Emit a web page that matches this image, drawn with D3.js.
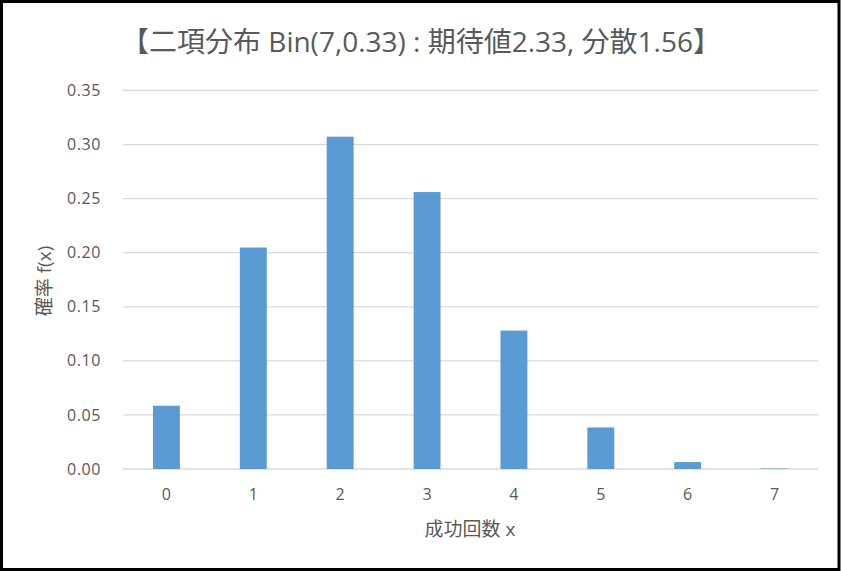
<!DOCTYPE html>
<html>
<head>
<meta charset="utf-8">
<script src="https://cdn.jsdelivr.net/npm/d3@7"></script>
<style>
  body { margin: 0; background: #fff; }
  text { font-family: "Open Sans", "Noto Sans CJK JP", sans-serif; fill: #595959; }
</style>
</head>
<body>
<div id="chart"></div>
<script>
// P(X = x) for each number of successes
const categories = ["0", "1", "2", "3", "4", "5", "6", "7"];
const probs = [0.0585, 0.2048, 0.3073, 0.2561, 0.128, 0.0384, 0.0064, 0.0005];
const yTicks = [0, 0.05, 0.1, 0.15, 0.2, 0.25, 0.3, 0.35];

const titleText = "【二項分布 Bin(7,0.33) : 期待値2.33, 分散1.56】";
const xLabel = "成功回数 x";
const yLabel = "確率 f(x)";

const width = 841;
const height = 572;
const plot = { left: 123, right: 818, top: 90.5, bottom: 469 };

const svg = d3
  .select("#chart")
  .append("svg")
  .attr("width", width)
  .attr("height", height);

svg
  .append("rect")
  .attr("x", 1.5)
  .attr("y", 1.5)
  .attr("width", width - 3.5)
  .attr("height", height - 4)
  .attr("fill", "#fff")
  .attr("stroke", "#000")
  .attr("stroke-width", 3);

const x = d3.scaleBand().domain(categories).range([plot.left, plot.right]);
const y = d3.scaleLinear().domain([0, 0.35]).range([plot.bottom, plot.top]);

// gridlines
svg
  .append("g")
  .selectAll("line")
  .data(yTicks)
  .join("line")
  .attr("x1", plot.left)
  .attr("x2", plot.right)
  .attr("y1", (d) => y(d))
  .attr("y2", (d) => y(d))
  .attr("stroke", "#d9d9d9")
  .attr("stroke-width", 1.3);

// y tick labels
svg
  .append("g")
  .selectAll("text")
  .data(yTicks)
  .join("text")
  .attr("x", 101)
  .attr("y", (d) => y(d))
  .attr("dy", "0.35em")
  .attr("text-anchor", "end")
  .style("font-size", "16px")
  .style("letter-spacing", "0.6px")
  .text((d) => d3.format(".2f")(d));

// bars
const barW = x.bandwidth() * 0.31;
svg
  .append("g")
  .selectAll("rect")
  .data(probs)
  .join("rect")
  .attr("x", (d, i) => x(categories[i]) + (x.bandwidth() - barW) / 2)
  .attr("y", (d) => y(d))
  .attr("width", barW)
  .attr("height", (d) => y(0) - y(d))
  .attr("fill", "#5b9bd5");

// x tick labels
svg
  .append("g")
  .selectAll("text")
  .data(categories)
  .join("text")
  .attr("x", (d) => x(d) + x.bandwidth() / 2)
  .attr("y", 494)
  .attr("dy", "0.35em")
  .attr("text-anchor", "middle")
  .style("font-size", "16px")
  .text((d) => d);

svg
  .append("text")
  .attr("x", 421)
  .attr("y", 42)
  .attr("dy", "0.35em")
  .attr("text-anchor", "middle")
  .style("font-size", "28px")
  .text(titleText);

svg
  .append("text")
  .attr("x", 470)
  .attr("y", 529)
  .attr("dy", "0.35em")
  .attr("text-anchor", "middle")
  .style("font-size", "19px")
  .text(xLabel);

svg
  .append("text")
  .attr("transform", "translate(44,281) rotate(-90)")
  .attr("dy", "0.35em")
  .attr("text-anchor", "middle")
  .style("font-size", "19px")
  .text(yLabel);
</script>
</body>
</html>
